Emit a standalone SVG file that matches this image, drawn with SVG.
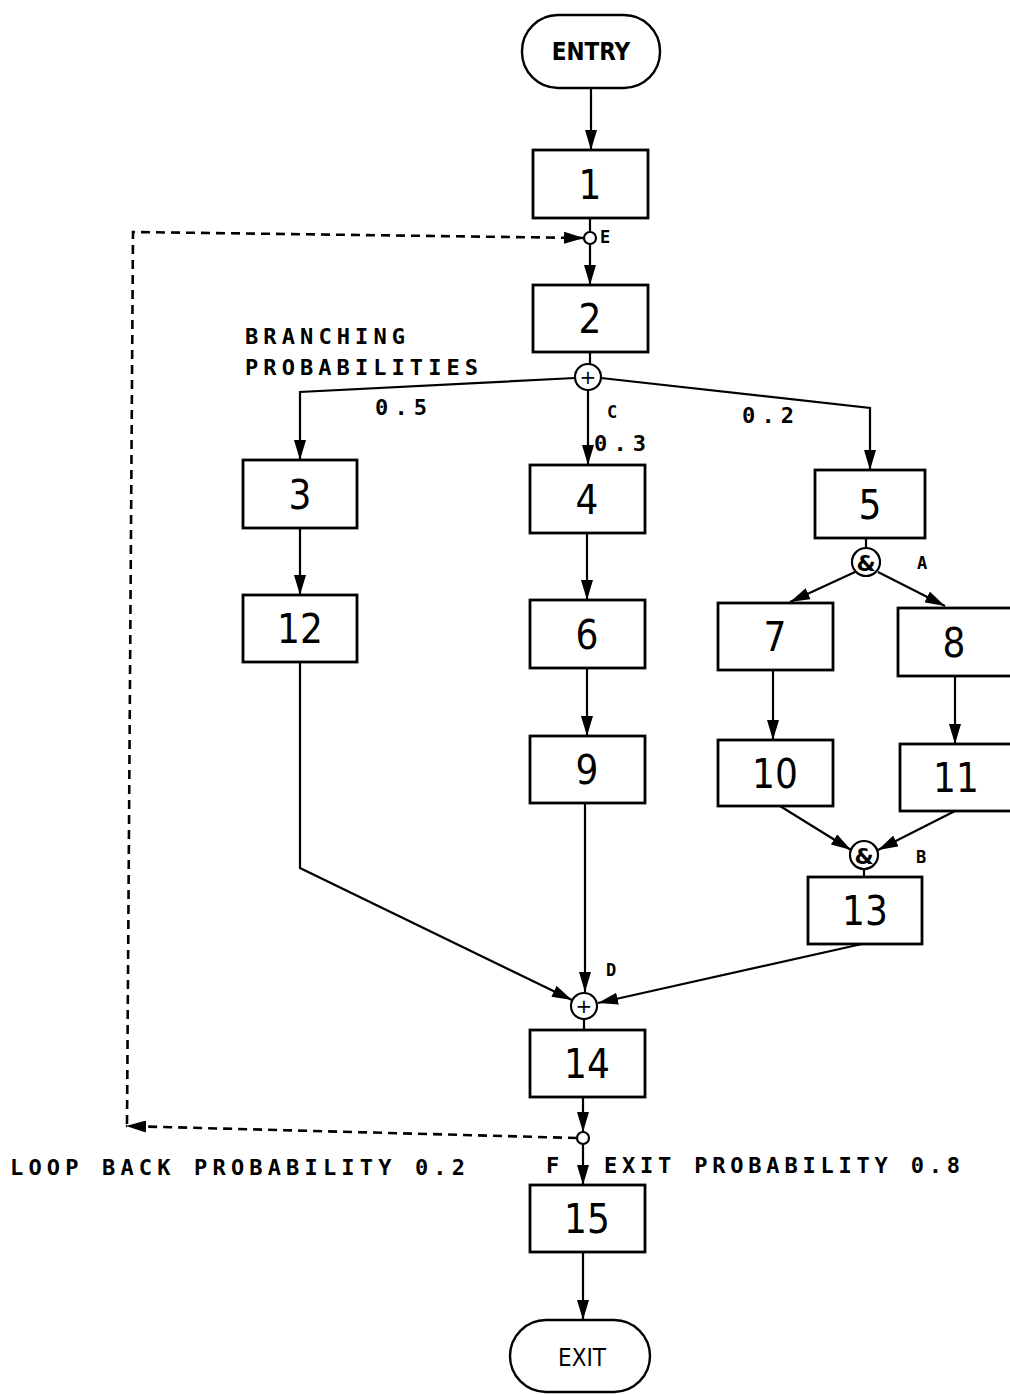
<svg xmlns="http://www.w3.org/2000/svg" width="1010" height="1395" viewBox="0 0 1010 1395">
<style>
.box{fill:#fff;stroke:#000;stroke-width:2.8}
.pill{fill:#fff;stroke:#000;stroke-width:2.4}
.num{font-family:"DejaVu Sans Condensed","DejaVu Sans",sans-serif;font-size:40px;text-anchor:middle;fill:#000}
.term{font-family:"DejaVu Sans Condensed","DejaVu Sans",sans-serif;font-size:24px;text-anchor:middle;fill:#000}
.lbl{font-family:"DejaVu Sans Mono","Liberation Mono",monospace;font-size:22px;font-weight:bold;fill:#000}
.sm{font-family:"DejaVu Sans Mono","Liberation Mono",monospace;font-size:17px;font-weight:bold;fill:#000}
.ln{fill:none;stroke:#000;stroke-width:2.2}
.dash{fill:none;stroke:#000;stroke-width:2.6;stroke-dasharray:9 6}
.junc{fill:#fff;stroke:#000;stroke-width:2.2}
.sym{font-family:"DejaVu Sans",sans-serif;text-anchor:middle;fill:#000}
</style>
<defs>
<marker id="ah" markerUnits="userSpaceOnUse" markerWidth="22" markerHeight="12" refX="20" refY="6" orient="auto">
<path d="M0,0 L20,6 L0,12 Z" fill="#000"/>
</marker>
</defs>

<g id="connectors">
<path class="ln" d="M591,88 L591,150" marker-end="url(#ah)"/>
<path class="ln" d="M590,218 L590,232"/>
<path class="ln" d="M590,244 L590,285" marker-end="url(#ah)"/>
<path class="ln" d="M590,352 L590,364"/>
<path class="ln" d="M575,378 L300,392 L300,460" marker-end="url(#ah)"/>
<path class="ln" d="M588,390 L588,465" marker-end="url(#ah)"/>
<path class="ln" d="M601,378 L870,408 L870,470" marker-end="url(#ah)"/>
<path class="ln" d="M300,528 L300,595" marker-end="url(#ah)"/>
<path class="ln" d="M587,533 L587,600" marker-end="url(#ah)"/>
<path class="ln" d="M587,668 L587,736" marker-end="url(#ah)"/>
<path class="ln" d="M866,538 L866,548"/>
<path class="ln" d="M855,572 L790,602" marker-end="url(#ah)"/>
<path class="ln" d="M878,572 L945,606" marker-end="url(#ah)"/>
<path class="ln" d="M773,670 L773,740" marker-end="url(#ah)"/>
<path class="ln" d="M955,676 L955,744" marker-end="url(#ah)"/>
<path class="ln" d="M780,806 L851,850" marker-end="url(#ah)"/>
<path class="ln" d="M955,811 L878,850" marker-end="url(#ah)"/>
<path class="ln" d="M864,869 L864,877"/>
<path class="ln" d="M300,662 L300,868 L572,1000" marker-end="url(#ah)"/>
<path class="ln" d="M585,803 L585,992" marker-end="url(#ah)"/>
<path class="ln" d="M862,944 L598,1003" marker-end="url(#ah)"/>
<path class="ln" d="M584,1019 L584,1030"/>
<path class="ln" d="M583,1097 L583,1132" marker-end="url(#ah)"/>
<path class="ln" d="M583,1144 L583,1185" marker-end="url(#ah)"/>
<path class="ln" d="M583,1252 L583,1320" marker-end="url(#ah)"/>
<path class="dash" d="M577,1138 L126,1126" marker-end="url(#ah)"/>
<path class="dash" d="M127,1124 L133,232 L584,238" marker-end="url(#ah)"/>
</g>

<g id="entry"><rect class="pill" x="522" y="15" width="138" height="73" rx="36"/><text class="term" x="591" y="60" font-weight="bold">ENTRY</text></g>
<g id="n1"><rect class="box" x="533" y="150" width="115" height="68"/><text class="num" x="590" y="199">1</text></g>
<g id="jE"><circle class="junc" cx="590" cy="238" r="6"/><text class="sm" x="600" y="243">E</text></g>
<g id="n2"><rect class="box" x="533" y="285" width="115" height="67"/><text class="num" x="590" y="333">2</text></g>
<g id="branchlabel"><text class="lbl" x="245" y="344" textLength="160" lengthAdjust="spacing">BRANCHING</text><text class="lbl" x="245" y="375" textLength="233" lengthAdjust="spacing">PROBABILITIES</text></g>
<g id="jC"><circle class="junc" cx="588" cy="377" r="13"/><text class="sym" x="588" y="384" font-size="20">+</text><text class="sm" x="607" y="418">C</text></g>
<g id="p05"><text class="lbl" x="375" y="415" textLength="52" lengthAdjust="spacing">0.5</text></g>
<g id="p03"><text class="lbl" x="594" y="451" textLength="52" lengthAdjust="spacing">0.3</text></g>
<g id="p02"><text class="lbl" x="742" y="423" textLength="52" lengthAdjust="spacing">0.2</text></g>
<g id="n3"><rect class="box" x="243" y="460" width="114" height="68"/><text class="num" x="300" y="509">3</text></g>
<g id="n4"><rect class="box" x="530" y="465" width="115" height="68"/><text class="num" x="587" y="514">4</text></g>
<g id="n5"><rect class="box" x="815" y="470" width="110" height="68"/><text class="num" x="870" y="519">5</text></g>
<g id="jA"><circle class="junc" cx="866" cy="562" r="14"/><text class="sym" x="866" y="571" font-size="22" font-weight="bold">&amp;</text><text class="sm" x="917" y="569">A</text></g>
<g id="n12"><rect class="box" x="243" y="595" width="114" height="67"/><text class="num" x="300" y="643">12</text></g>
<g id="n6"><rect class="box" x="530" y="600" width="115" height="68"/><text class="num" x="587" y="649">6</text></g>
<g id="n7"><rect class="box" x="718" y="603" width="115" height="67"/><text class="num" x="775" y="651">7</text></g>
<g id="n8"><rect class="box" x="898" y="608" width="116" height="68"/><text class="num" x="954" y="657">8</text></g>
<g id="n9"><rect class="box" x="530" y="736" width="115" height="67"/><text class="num" x="587" y="784">9</text></g>
<g id="n10"><rect class="box" x="718" y="740" width="115" height="66"/><text class="num" x="775" y="788">10</text></g>
<g id="n11"><rect class="box" x="900" y="744" width="114" height="67"/><text class="num" x="956" y="792">11</text></g>
<g id="jB"><circle class="junc" cx="864" cy="855" r="14"/><text class="sym" x="864" y="864" font-size="22" font-weight="bold">&amp;</text><text class="sm" x="916" y="863">B</text></g>
<g id="n13"><rect class="box" x="808" y="877" width="114" height="67"/><text class="num" x="865" y="925">13</text></g>
<g id="jD"><circle class="junc" cx="584" cy="1006" r="13"/><text class="sym" x="584" y="1013" font-size="20">+</text><text class="sm" x="606" y="976">D</text></g>
<g id="n14"><rect class="box" x="530" y="1030" width="115" height="67"/><text class="num" x="587" y="1078">14</text></g>
<g id="jF"><circle class="junc" cx="583" cy="1138" r="6"/><text class="lbl" x="546" y="1173">F</text></g>
<g id="looplabel"><text class="lbl" x="10" y="1175" textLength="455" lengthAdjust="spacing">LOOP BACK PROBABILITY 0.2</text></g>
<g id="exitlabel"><text class="lbl" x="604" y="1173" textLength="356" lengthAdjust="spacing">EXIT PROBABILITY 0.8</text></g>
<g id="n15"><rect class="box" x="530" y="1185" width="115" height="67"/><text class="num" x="587" y="1233">15</text></g>
<g id="exit"><rect class="pill" x="510" y="1320" width="140" height="72" rx="36"/><text class="term" x="582" y="1366">EXIT</text></g>
</svg>
